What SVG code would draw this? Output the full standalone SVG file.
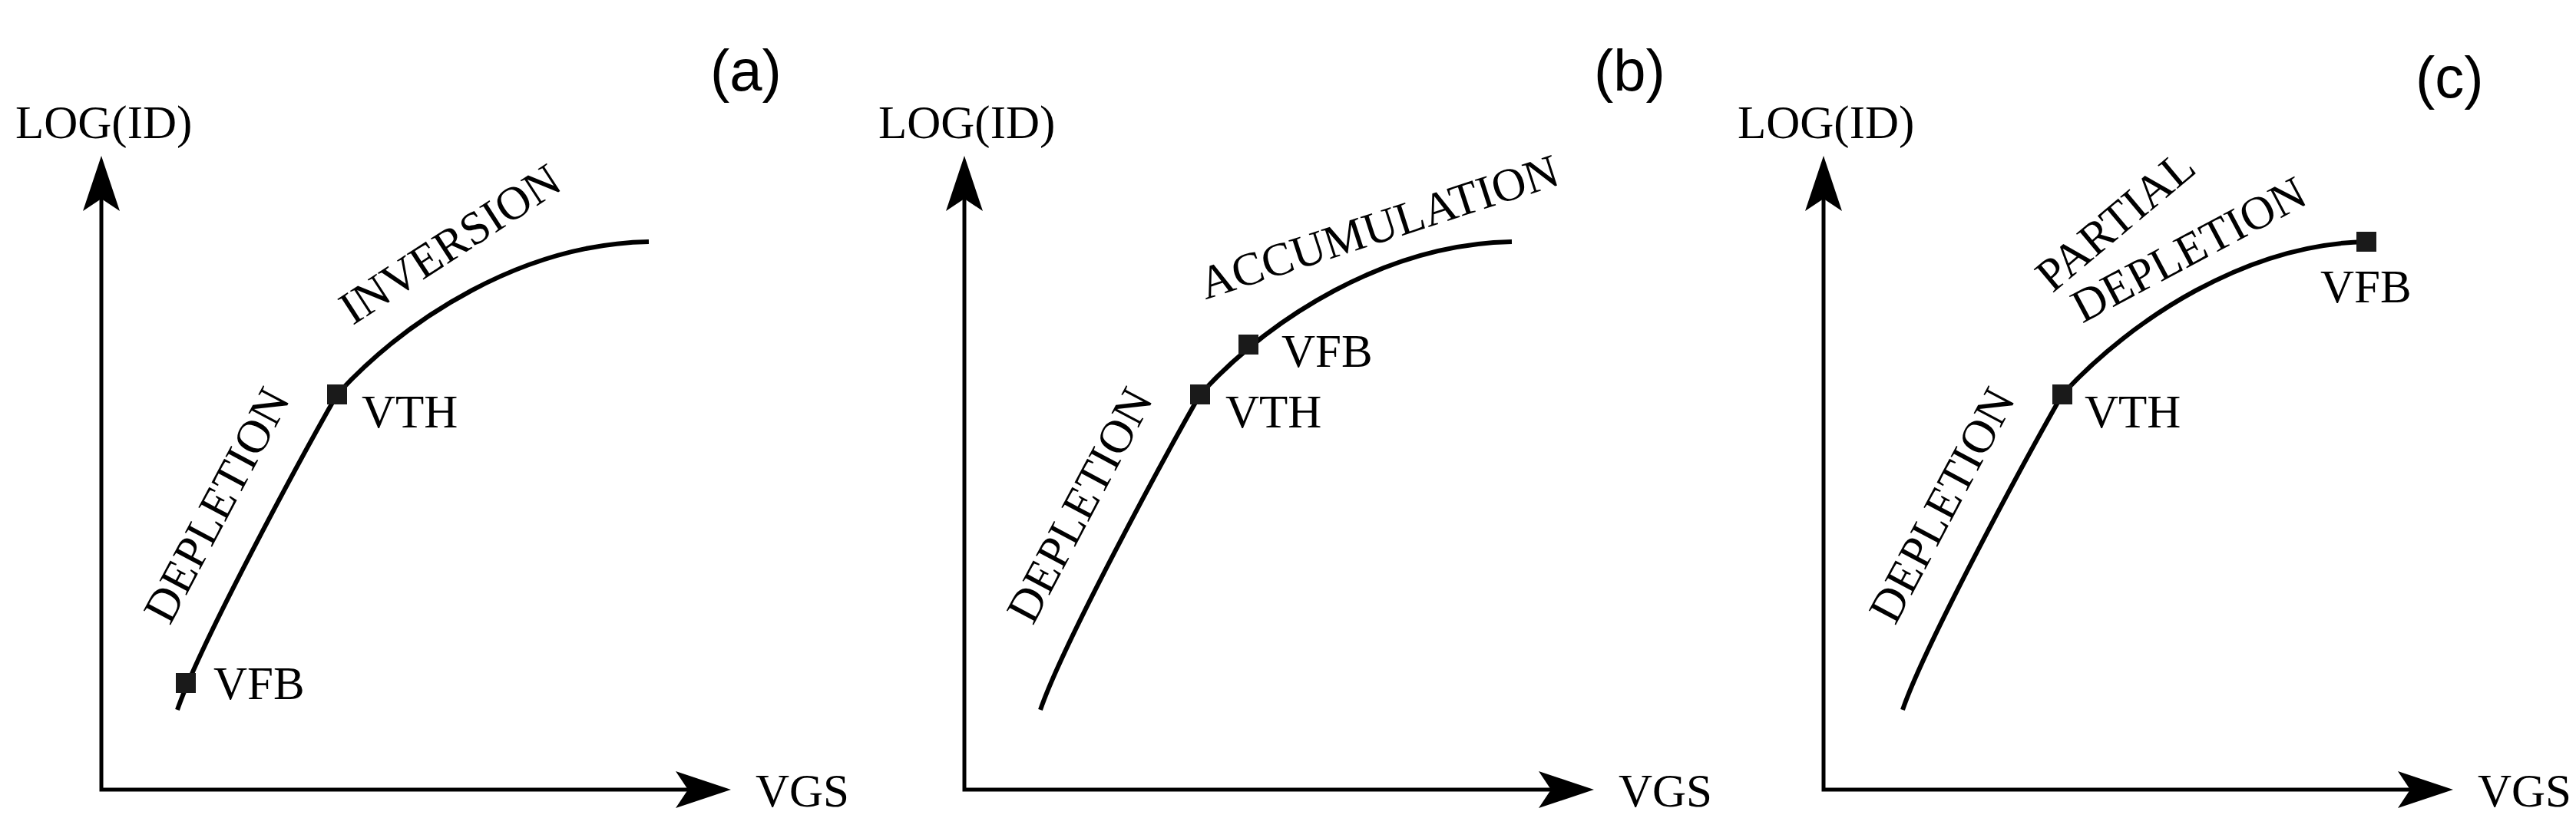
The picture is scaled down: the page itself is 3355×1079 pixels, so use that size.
<svg xmlns="http://www.w3.org/2000/svg" width="3355" height="1079" viewBox="0 0 3355 1079">
<style>
.ax{fill:none;stroke:#000;stroke-width:5}
.cv{fill:none;stroke:#000;stroke-width:6}
.t{font-family:"Liberation Serif",serif;font-size:61px;fill:#000}
.p{font-family:"Liberation Sans",sans-serif;font-size:76px;fill:#000}
.sq{fill:#1a1a1a}
</style>
<defs>
<path id="ah" d="M0,0 L-72,-24 L-56,0 L-72,24 Z" fill="#000"/>
</defs>
<rect width="3355" height="1079" fill="#fff"/>
<g id="connectors">
<g id="axes-a"><path class="ax" d="M132,250 V1029 H910"/><use href="#ah" transform="translate(952,1029)"/><use href="#ah" transform="translate(132,203) rotate(-90)"/></g>
<g id="axes-b"><path class="ax" d="M1256,250 V1029 H2034"/><use href="#ah" transform="translate(2076,1029)"/><use href="#ah" transform="translate(1256,203) rotate(-90)"/></g>
<g id="axes-c"><path class="ax" d="M2375,250 V1029 H3153"/><use href="#ah" transform="translate(3195,1029)"/><use href="#ah" transform="translate(2375,203) rotate(-90)"/></g>
<path class="cv" d="M231,925 C260,840 390,600 439,514 C530,415 680,318 845,315"/>
<path class="cv" d="M1355,925 C1384,840 1514,600 1563,514 C1654,415 1804,318 1969,315"/>
<path class="cv" d="M2478,925 C2507,840 2637,600 2686,514 C2777,415 2927,318 3082,315"/>
</g>
<g id="panel-a">
<text class="t" x="20" y="180">LOG(ID)</text>
<text class="t" x="984" y="1051">VGS</text>
<text class="p" x="925" y="118">(a)</text>
<rect class="sq" x="229" y="877" width="26" height="26"/>
<text class="t" x="278" y="911">VFB</text>
<rect class="sq" x="426" y="501" width="26" height="26"/>
<text class="t" x="471" y="557">VTH</text>
<text class="t" text-anchor="middle" transform="translate(300,668) rotate(-62)">DEPLETION</text>
<text class="t" text-anchor="middle" transform="translate(597,335) rotate(-33)">INVERSION</text>
</g>
<g id="panel-b">
<text class="t" x="1144" y="180">LOG(ID)</text>
<text class="t" x="2108" y="1051">VGS</text>
<text class="p" x="2076" y="118">(b)</text>
<rect class="sq" x="1550" y="501" width="26" height="26"/>
<text class="t" x="1596" y="557">VTH</text>
<rect class="sq" x="1613" y="436" width="26" height="26"/>
<text class="t" x="1669" y="478">VFB</text>
<text class="t" text-anchor="middle" transform="translate(1424,668) rotate(-62)">DEPLETION</text>
<text class="t" text-anchor="middle" transform="translate(1802,315) rotate(-18)">ACCUMULATION</text>
</g>
<g id="panel-c">
<text class="t" x="2263" y="180">LOG(ID)</text>
<text class="t" x="3227" y="1051">VGS</text>
<text class="p" x="3146" y="127">(c)</text>
<rect class="sq" x="2673" y="501" width="26" height="26"/>
<text class="t" x="2715" y="557">VTH</text>
<rect class="sq" x="3069" y="302" width="26" height="26"/>
<text class="t" x="3022" y="394">VFB</text>
<text class="t" text-anchor="middle" transform="translate(2547,668) rotate(-62)">DEPLETION</text>
<text class="t" text-anchor="middle" transform="translate(2768,303) rotate(-40)">PARTIAL</text>
<text class="t" text-anchor="middle" transform="translate(2860,343) rotate(-28)">DEPLETION</text>
</g>
</svg>
